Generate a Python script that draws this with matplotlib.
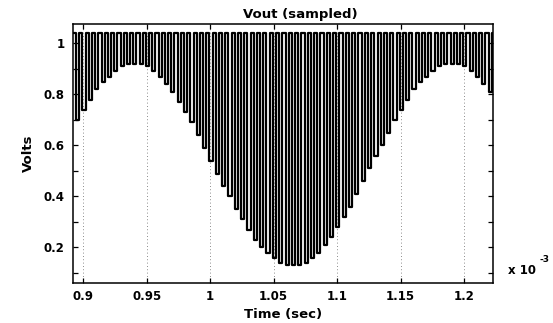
import numpy as np
import matplotlib
matplotlib.use("Agg")
import matplotlib.pyplot as plt
from matplotlib.ticker import MultipleLocator

plt.rcParams.update(
    {
        "font.family": "DejaVu Sans",
        "font.weight": "bold",
        "axes.linewidth": 1.1,
        "xtick.direction": "in",
        "ytick.direction": "in",
    }
)

# sampled output: flat top between samples, dip to the held value at each sample
t_first_dip = 0.8956e-3      # s
sample_period = 5e-6          # s
v_high = 1.04                 # V
v_low = [
    0.70, 0.74, 0.78, 0.82, 0.85, 0.87, 0.89, 0.91, 0.92, 0.92,
    0.92, 0.91, 0.89, 0.87, 0.84, 0.81, 0.77, 0.73, 0.69, 0.64,
    0.59, 0.54, 0.49, 0.44, 0.40, 0.35, 0.31, 0.27, 0.23, 0.20,
    0.18, 0.16, 0.14, 0.13, 0.13, 0.13, 0.14, 0.16, 0.18, 0.21,
    0.24, 0.28, 0.32, 0.36, 0.41, 0.46, 0.51, 0.56, 0.60, 0.65,
    0.70, 0.74, 0.78, 0.82, 0.85, 0.87, 0.89, 0.91, 0.92, 0.92,
    0.92, 0.91, 0.89, 0.87, 0.84, 0.81,
]

x_ticks = [0.9e-3, 0.95e-3, 1.0e-3, 1.05e-3, 1.1e-3, 1.15e-3, 1.2e-3]
x_tick_labels = ["0.9", "0.95", "1", "1.05", "1.1", "1.15", "1.2"]
y_ticks = [0.2, 0.4, 0.6, 0.8, 1.0]
y_tick_labels = ["0.2", "0.4", "0.6", "0.8", "1"]

x_lim = (0.89165e-3, 1.2231e-3)
y_lim = (0.062, 1.075)

# build the waveform path from the samples
dip_t = t_first_dip + sample_period * np.arange(len(v_low))
half = sample_period / 4
xs = [x_lim[0]]
ys = [v_high]
for tc, lo in zip(dip_t, v_low):
    xs += [tc - half, tc - half, tc + half, tc + half]
    ys += [v_high, lo, lo, v_high]
xs.append(x_lim[1])
ys.append(v_high)

fig = plt.figure(figsize=(5.53, 3.23), dpi=100)
ax = fig.add_axes([0.1315, 0.1248, 0.7606, 0.8000])

for xt in x_ticks:
    ax.axvline(xt, color="0.4", lw=0.6, ls=(0, (1, 3)), zorder=1)

ax.plot(xs, ys, color="black", lw=1.6, solid_joinstyle="round", zorder=2)

ax.set_xlim(*x_lim)
ax.set_ylim(*y_lim)
ax.set_xticks(x_ticks)
ax.set_xticklabels(x_tick_labels)
ax.set_yticks(y_ticks)
ax.set_yticklabels(y_tick_labels)
ax.yaxis.set_minor_locator(MultipleLocator(0.1))
ax.tick_params(which="both", top=True, right=True, length=3.5, width=0.9,
               labelsize=8.5)
ax.tick_params(axis="x", pad=5)
ax.tick_params(axis="y", pad=6)

ax.set_title("Vout (sampled)", fontsize=9.5, fontweight="bold",
             x=0.54, pad=4.5)
ax.set_xlabel("Time (sec)", fontsize=9.5, fontweight="bold", labelpad=4)
ax.set_ylabel("Volts", fontsize=9.5, fontweight="bold", labelpad=6)

fig.text(508 / 553, 1 - 270.5 / 323, "x 10", fontsize=8.5, fontweight="bold",
         ha="left", va="center")
fig.text(539 / 553, 1 - 259 / 323, "-3", fontsize=6.5, fontweight="bold",
         ha="left", va="center")

fig.savefig("out.png", dpi=100)
